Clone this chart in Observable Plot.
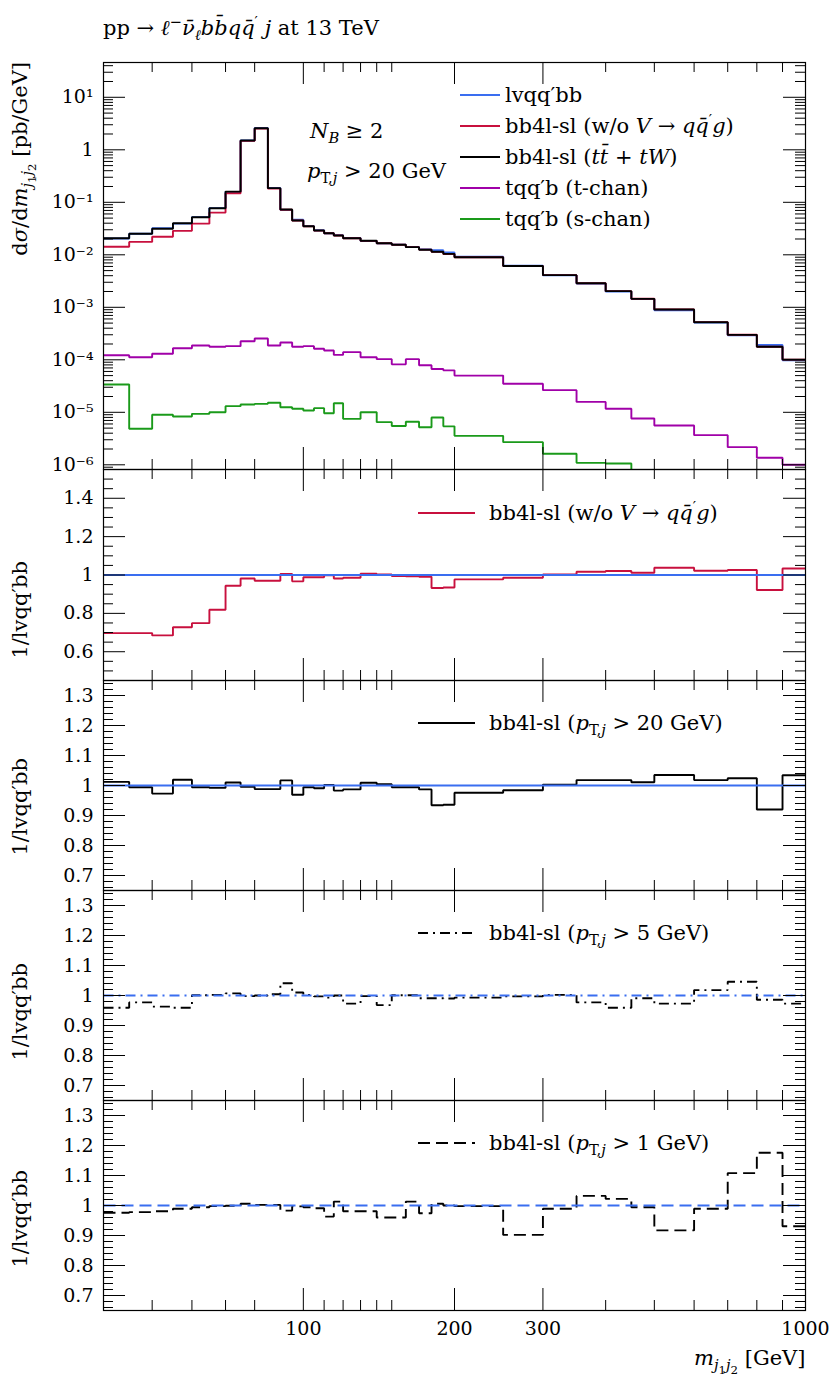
<!DOCTYPE html>
<html><head><meta charset="utf-8">
<script src="https://cdn.jsdelivr.net/npm/d3@7"></script>
<script src="https://cdn.jsdelivr.net/npm/@observablehq/plot@0.6"></script>
<style>
body{margin:0;background:#fff;}
#root{position:relative;width:830px;height:1380px;font-family:"DejaVu Serif",serif;color:#000;overflow:hidden;}
.t{position:absolute;white-space:nowrap;font-size:21px;line-height:24px;}
.t i{font-style:italic;}
.t sub,.t sup{font-size:70%;line-height:0;}
.t sub sub{font-size:80%;}
.rot{position:absolute;white-space:nowrap;font-size:21px;line-height:24px;width:400px;text-align:right;transform-origin:0 0;transform:rotate(-90deg);}
.rot sub{font-size:70%;line-height:0;}
.rot sub sub{font-size:80%;}
svg.sample{position:absolute;overflow:visible;}
</style></head><body><div id="root"></div>
<script>
// ---------------- data ----------------
const binEdges = [40,45,50,55,60,65,70,75,80,85,90,95,100,105,110,115,120,130,140,150,160,170,180,190,200,250,300,350,400,450,500,600,700,800,900,1000];
// dsigma/dm [pb/GeV]
const lvqqbb  = [0.02045,0.02525,0.0322,0.0393,0.0523,0.0776,0.158,1.506,2.61,0.188,0.0718,0.0464,0.0352,0.0293,0.0257,0.0237,0.0210,0.0183,0.01653,0.0156,0.01408,0.01266,0.0122,0.0111,0.00922,0.0062,0.00409,0.00283,0.00199,0.001434,0.000879,0.000511,0.000292,0.000192,0.0000977];
const bb4lNoV = [0.01425,0.0176,0.02206,0.0286,0.0392,0.0636,0.149,1.479,2.53,0.1824,0.0722,0.0449,0.0348,0.0289,0.02565,0.02327,0.0207,0.01843,0.01658,0.01552,0.01398,0.01255,0.01137,0.01038,0.00901,0.00611,0.0041,0.00288,0.00203,0.001451,0.000912,0.000522,0.0003,0.000177,0.000101];
const bb4lTT  = [0.0207,0.0251,0.0313,0.040,0.052,0.077,0.16,1.50,2.58,0.186,0.073,0.045,0.035,0.029,0.0258,0.0233,0.0207,0.0185,0.0166,0.0155,0.0140,0.0125,0.0114,0.0104,0.0090,0.0061,0.0041,0.00288,0.00203,0.00145,0.00091,0.00052,0.000299,0.000177,0.000101];
const tqqbT   = [1.22e-4,1.12e-4,1.30e-4,1.66e-4,1.87e-4,1.77e-4,1.82e-4,2.26e-4,2.55e-4,1.87e-4,2.14e-4,1.77e-4,1.82e-4,1.62e-4,1.50e-4,1.24e-4,1.40e-4,1.12e-4,1.03e-4,8.2e-5,1.03e-4,7.9e-5,6.7e-5,6.3e-5,5.0e-5,3.49e-5,2.64e-5,1.58e-5,1.17e-5,7.6e-6,5.6e-6,3.67e-6,2.17e-6,1.36e-6,1.0e-6];
const tqqbS   = [3.39e-5,4.85e-6,8.96e-6,8.3e-6,9.35e-6,1.0e-5,1.31e-5,1.41e-5,1.45e-5,1.52e-5,1.25e-5,1.17e-5,1.08e-5,1.2e-5,9.6e-6,1.49e-5,7.5e-6,1.0e-5,6.5e-6,5.5e-6,6.6e-6,5.2e-6,7.96e-6,5.4e-6,3.56e-6,2.7e-6,1.62e-6,1.09e-6,1.06e-6];
// ratios to lvqq'bb
const ratioNoV  = [0.697,0.697,0.685,0.728,0.749,0.819,0.944,0.982,0.970,0.970,1.005,0.967,0.988,0.988,0.998,0.982,0.986,1.007,1.003,0.995,0.993,0.991,0.932,0.935,0.977,0.986,1.003,1.017,1.021,1.012,1.038,1.022,1.026,0.922,1.034];
const ratioPt20 = [1.012,0.994,0.973,1.019,0.994,0.992,1.010,0.996,0.988,0.988,1.017,0.969,0.994,0.991,1.002,0.983,0.987,1.009,1.004,0.994,0.994,0.987,0.934,0.936,0.976,0.984,1.003,1.018,1.018,1.011,1.035,1.018,1.024,0.920,1.034];
const ratioPt5  = [0.959,0.977,0.963,0.959,1.001,1.002,1.007,0.998,1.000,1.004,1.041,1.010,1.002,0.997,0.993,1.000,0.973,0.998,0.968,1.001,1.001,0.991,0.991,0.990,0.993,0.997,1.002,0.977,0.959,0.991,0.973,1.018,1.046,0.986,0.973];
const ratioPt1  = [0.976,0.978,0.981,0.989,0.994,0.998,0.999,1.006,1.002,1.002,0.983,0.997,0.994,0.991,0.963,1.013,0.981,0.981,0.960,0.960,1.013,0.974,1.006,1.000,0.998,0.902,0.989,1.032,1.022,0.994,0.917,0.989,1.108,1.176,0.931];
// ticks
const xMajorTicks = [100,200,300,1000];
const xTickLabels = ["100","200","300","1000"];
const xMinorTicks = [50,60,70,80,110,120,130,140,150,400,500,600,700,800,900];
const topYTicks = [10,1,0.1,0.01,1e-3,1e-4,1e-5,1e-6];
const topYLabels = ["10¹","1","10⁻¹","10⁻²","10⁻³","10⁻⁴","10⁻⁵","10⁻⁶"];
const r1YTicks = [1.4,1.2,1.0,0.8,0.6];
const r1YLabels = ["1.4","1.2","1","0.8","0.6"];
const rYTicks = [1.3,1.2,1.1,1.0,0.9,0.8,0.7];
const rYLabels = ["1.3","1.2","1.1","1","0.9","0.8","0.7"];

// ---------------- styles ----------------
const C = {blue:"#3a6ef0", red:"#c8103e", black:"#000", purple:"#a000a8", green:"#1a9a1a"};
const FONT = "DejaVu Serif";
const W = 830, ML = 103, MR = 25, PW = W - ML - MR;
const root = document.getElementById("root");

function steps(vals) {
  const pts = vals.map((v,i)=>({x: binEdges[i], y: v}));
  pts.push({x: binEdges[vals.length], y: vals[vals.length-1]});
  return pts;
}
const selfRatio = lvqqbb.map((v,i)=>v/lvqqbb[i]);

function makePanel(cfg) {
  const {top, height, type, domain, yMajor, yLabels, yMinor, lines, xLabels} = cfg;
  const marks = [];
  for (const L of lines) {
    marks.push(Plot.line(L.data, {x:"x", y:"y", curve:"step-after", stroke:L.color,
      strokeWidth:L.width || 1.9, strokeDasharray:L.dash, strokeLinejoin:"miter", strokeLinecap:"butt"}));
  }
  const tk = {stroke:"#000", strokeWidth:1};
  marks.push(Plot.ruleY(yMajor, {y:d=>d, insetRight: PW-22, ...tk}));
  marks.push(Plot.ruleY(yMajor, {y:d=>d, insetLeft: PW-22, ...tk}));
  marks.push(Plot.ruleY(yMinor, {y:d=>d, insetRight: PW-10, ...tk}));
  marks.push(Plot.ruleY(yMinor, {y:d=>d, insetLeft: PW-10, ...tk}));
  marks.push(Plot.ruleX(xMajorTicks, {x:d=>d, insetBottom: height-22, ...tk}));
  marks.push(Plot.ruleX(xMajorTicks, {x:d=>d, insetTop: height-22, ...tk}));
  marks.push(Plot.ruleX(xMinorTicks, {x:d=>d, insetBottom: height-10, ...tk}));
  marks.push(Plot.ruleX(xMinorTicks, {x:d=>d, insetTop: height-10, ...tk}));
  marks.push(Plot.frame({stroke:"#000", strokeWidth:1.2}));
  marks.push(Plot.text(yMajor, {y:d=>d, text:(d,i)=>yLabels[i], frameAnchor:"left", dx:-10,
    textAnchor:"end", fontSize:19, fontFamily:FONT, fill:"#000"}));
  if (xLabels) {
    marks.push(Plot.text(xMajorTicks, {x:d=>d, text:(d,i)=>xTickLabels[i], frameAnchor:"bottom",
      dy:18, lineAnchor:"middle", fontSize:19, fontFamily:FONT, fill:"#000"}));
  }
  const svg = Plot.plot({
    width: W, height, marginLeft: ML, marginRight: MR, marginTop: 0, marginBottom: 0,
    x: {type:"log", domain:[40,1000], axis:null},
    y: {type, domain, axis:null},
    marks
  });
  svg.style.position = "absolute";
  svg.style.left = "0px";
  svg.style.top = top + "px";
  svg.style.background = "transparent";
  svg.style.overflow = "visible";
  svg.style.maxWidth = "none";
  root.appendChild(svg);
}

const logMinor = [];
for (let k = -7; k <= 1; k++) for (let m = 2; m <= 9; m++) {
  const v = m * Math.pow(10, k);
  if (v > 8.14e-7 && v < 46) logMinor.push(v);
}
const r1Minor = d3.range(9, 32).map(i => i*0.05).filter(v => Math.abs(v*5 - Math.round(v*5)) > 1e-6);
const rMinor = d3.range(33, 68).map(i => i*0.02).filter(v => Math.abs(v*10 - Math.round(v*10)) > 1e-6);

const floorY = 8.14e-7;
const greenPts = tqqbS.map((v,i)=>({x: binEdges[i], y: v}));
greenPts.push({x: binEdges[tqqbS.length], y: floorY});
makePanel({top:62, height:407, type:"log", domain:[floorY, 46], yMajor: topYTicks, yLabels: topYLabels, yMinor: logMinor,
  lines:[
    {data: steps(lvqqbb), color:C.blue},
    {data: steps(bb4lNoV), color:C.red},
    {data: steps(bb4lTT), color:C.black},
    {data: steps(tqqbT), color:C.purple},
    {data: greenPts, color:C.green}
  ]});
makePanel({top:469, height:211, type:"linear", domain:[0.45,1.55], yMajor:r1YTicks, yLabels:r1YLabels, yMinor:r1Minor,
  lines:[{data: steps(ratioNoV), color:C.red},{data: steps(selfRatio), color:C.blue}]});
makePanel({top:680, height:210, type:"linear", domain:[0.65,1.35], yMajor:rYTicks, yLabels:rYLabels, yMinor:rMinor,
  lines:[{data: steps(ratioPt20), color:C.black},{data: steps(selfRatio), color:C.blue}]});
makePanel({top:890, height:210, type:"linear", domain:[0.65,1.35], yMajor:rYTicks, yLabels:rYLabels, yMinor:rMinor,
  lines:[{data: steps(ratioPt5), color:C.black, dash:"10,5,2,5"},{data: steps(selfRatio), color:C.blue, dash:"10,5,2,5"}]});
makePanel({top:1100, height:210, type:"linear", domain:[0.65,1.35], yMajor:rYTicks, yLabels:rYLabels, yMinor:rMinor,
  lines:[{data: steps(ratioPt1), color:C.black, dash:"12,6"},{data: steps(selfRatio), color:C.blue, dash:"12,6"}], xLabels:true});

// ---------------- text overlays ----------------
function addText(html, left, top, cls="t") {
  const d = document.createElement("div");
  d.className = cls; d.innerHTML = html;
  d.style.left = left + "px"; d.style.top = top + "px";
  root.appendChild(d);
  return d;
}
function sample(x1, x2, y, color, dash) {
  const ns = "http://www.w3.org/2000/svg";
  const s = document.createElementNS(ns, "svg");
  s.setAttribute("class","sample");
  s.setAttribute("width", x2-x1); s.setAttribute("height", 10);
  s.style.left = x1 + "px"; s.style.top = (y-5) + "px";
  const l = document.createElementNS(ns, "line");
  l.setAttribute("x1",0); l.setAttribute("x2",x2-x1); l.setAttribute("y1",5); l.setAttribute("y2",5);
  l.setAttribute("stroke", color); l.setAttribute("stroke-width", 2);
  if (dash) l.setAttribute("stroke-dasharray", dash);
  s.appendChild(l); root.appendChild(s);
}
addText('pp → <i>ℓ</i><sup>−</sup><i>ν̄</i><sub><i>ℓ</i></sub><i>bb̄qq̄</i><sup>′</sup> <i>j</i> at 13 TeV', 103, 16);

const legendTop = [
  [C.blue, "lvqq′bb"],
  [C.red, 'bb4l-sl (w/o <i>V</i> → <i>qq̄</i><sup>′</sup><i>g</i>)'],
  [C.black, 'bb4l-sl (<i>tt̄</i> + <i>tW</i>)'],
  [C.purple, "tqq′b (t-chan)"],
  [C.green, "tqq′b (s-chan)"]
];
legendTop.forEach(([c, h], i) => {
  const y = 95 + i*31;
  sample(460, 500, y, c);
  addText(h, 505, y-12);
});
addText('<i>N<sub>B</sub></i> ≥ 2', 310, 119);
addText('<i>p</i><sub>T,<i>j</i></sub> &gt; 20 GeV', 307, 159);

sample(418, 475, 513, C.red);
addText('bb4l-sl (w/o <i>V</i> → <i>qq̄</i><sup>′</sup><i>g</i>)', 489, 501);
sample(418, 475, 723, C.black);
addText('bb4l-sl (<i>p</i><sub>T,<i>j</i></sub> &gt; 20 GeV)', 489, 711);
sample(418, 475, 933, C.black, "10,5,2,5");
addText('bb4l-sl (<i>p</i><sub>T,<i>j</i></sub> &gt; 5 GeV)', 489, 921);
sample(418, 475, 1143, C.black, "12,6");
addText('bb4l-sl (<i>p</i><sub>T,<i>j</i></sub> &gt; 1 GeV)', 489, 1131);

addText('d<i>σ</i>/d<i>m</i><sub><i>j</i><sub>1</sub><i>j</i><sub>2</sub></sub> [pb/GeV]', 8, 62+400, "rot");
[561, 758, 963, 1170].forEach(yEnd => addText('1/lvqq′bb', 8, yEnd+400, "rot"));
const xt = addText('<i>m</i><sub><i>j</i><sub>1</sub><i>j</i><sub>2</sub></sub> [GeV]', 0, 1346);
xt.style.left = (805 - xt.offsetWidth) + "px";
</script>
</body></html>
